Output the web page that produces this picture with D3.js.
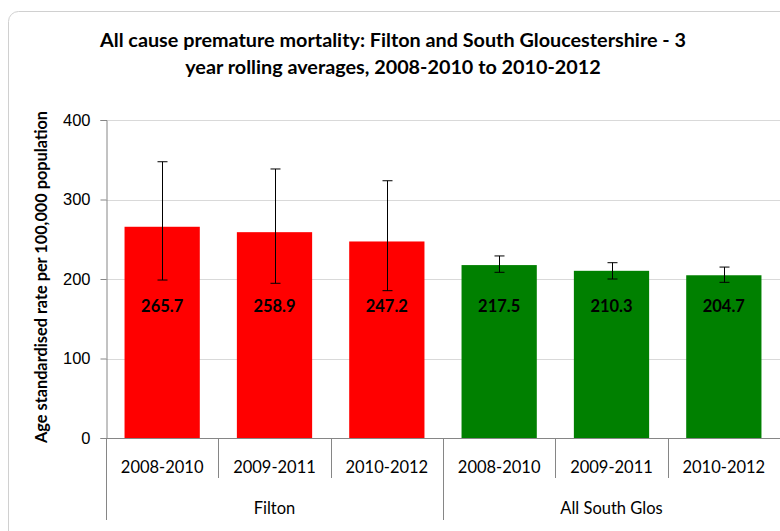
<!DOCTYPE html>
<html>
<head>
<meta charset="utf-8">
<script src="https://cdn.jsdelivr.net/npm/d3@7"></script>
<style>
  body { margin: 0; background: #fff; }
  svg { display: block; font-family: Lato, "Open Sans", sans-serif; }
</style>
</head>
<body>
<svg id="chart"></svg>
<script>
const periods = ['2008-2010', '2009-2011', '2010-2012'];
const groups = ['Filton', 'All South Glos'];
const filtonValues = [265.7, 258.9, 247.2];
const filtonLower = [198.7, 194.6, 185.3];
const filtonUpper = [347.5, 338.4, 323.6];
const southGlosValues = [217.5, 210.3, 204.7];
const southGlosLower = [208.4, 200.0, 195.8];
const southGlosUpper = [229.0, 220.5, 215.0];
const yTicks = [0, 100, 200, 300, 400];
const groupColors = ['#ff0000', '#008000'];

const width = 780, height = 531;
const margin = { top: 120, right: 0, bottom: 93, left: 106 };

const rows = [];
[[filtonValues, filtonLower, filtonUpper], [southGlosValues, southGlosLower, southGlosUpper]]
  .forEach(([vals, lo, hi], g) => {
    vals.forEach((v, i) => rows.push({
      key: g + '|' + periods[i], period: periods[i], group: groups[g], g,
      value: v, lower: lo[i], upper: hi[i]
    }));
  });

const svg = d3.select('#chart').attr('width', width).attr('height', height);

// outer chart frame
svg.append('rect')
  .attr('x', 8.5).attr('y', 11.5)
  .attr('width', 800).attr('height', 540)
  .attr('rx', 10)
  .attr('fill', '#fff')
  .attr('stroke', '#d0d0d0');

const innerW = width - margin.left - margin.right;
const innerH = height - margin.top - margin.bottom;

const x = d3.scaleBand()
  .domain(rows.map(d => d.key))
  .range([0, innerW])
  .paddingInner(0.33)
  .paddingOuter(0.165);

const y = d3.scaleLinear()
  .domain([0, 400])
  .range([innerH, 0]);

const g = svg.append('g')
  .attr('transform', `translate(${margin.left},${margin.top})`);

// gridlines
g.append('g')
  .selectAll('line')
  .data(yTicks.filter(t => t > 0))
  .enter()
  .append('line')
  .attr('x1', 0).attr('x2', innerW)
  .attr('y1', d => Math.round(y(d)) + 0.5)
  .attr('y2', d => Math.round(y(d)) + 0.5)
  .attr('stroke', '#d9d9d9');

// y axis
const yAxis = g.append('g')
  .attr('transform', 'translate(0.5,0)')
  .call(d3.axisLeft(y).tickValues(yTicks).tickSize(6).tickPadding(10));
yAxis.select('.domain').attr('stroke', '#868686');
yAxis.selectAll('.tick line').attr('stroke', '#868686');
yAxis.selectAll('.tick text')
  .attr('font-size', 16.5)
  .attr('fill', '#000');

// bars
g.selectAll('.bar')
  .data(rows)
  .enter()
  .append('rect')
  .attr('class', 'bar')
  .attr('x', d => x(d.key))
  .attr('y', d => y(d.value))
  .attr('width', x.bandwidth())
  .attr('height', d => innerH - y(d.value))
  .attr('fill', d => groupColors[d.g]);

// error bars
const err = g.selectAll('.err')
  .data(rows)
  .enter()
  .append('g')
  .attr('class', 'err')
  .attr('transform', d => `translate(${Math.round(x(d.key) + x.bandwidth() / 2) + 0.5},0)`)
  .attr('stroke', '#000')
  .attr('stroke-width', 1);
err.append('line')
  .attr('y1', d => y(d.lower)).attr('y2', d => y(d.upper));
err.append('line')
  .attr('x1', -5).attr('x2', 5)
  .attr('y1', d => y(d.upper)).attr('y2', d => y(d.upper));
err.append('line')
  .attr('x1', -5).attr('x2', 5)
  .attr('y1', d => y(d.lower)).attr('y2', d => y(d.lower));

// value labels
g.selectAll('.val')
  .data(rows)
  .enter()
  .append('text')
  .attr('class', 'val')
  .attr('x', d => x(d.key) + x.bandwidth() / 2)
  .attr('y', y(166))
  .attr('dy', '0.35em')
  .attr('text-anchor', 'middle')
  .attr('font-size', 16.5)
  .attr('font-weight', 'bold')
  .attr('fill', '#000')
  .text(d => d.value.toFixed(1));

// x axis (two-level categories)
const step = x.step();
const xa = g.append('g').attr('transform', `translate(0,${innerH})`);
xa.append('line')
  .attr('x1', 0).attr('x2', innerW)
  .attr('y1', 0.5).attr('y2', 0.5)
  .attr('stroke', '#868686');
xa.selectAll('.ctick')
  .data(d3.range(rows.length + 1))
  .enter()
  .append('line')
  .attr('x1', i => Math.round(i * step) + 0.5)
  .attr('x2', i => Math.round(i * step) + 0.5)
  .attr('y1', 0)
  .attr('y2', i => (i % 3 === 0 ? 82 : 40))
  .attr('stroke', '#868686');
xa.selectAll('.clabel')
  .data(rows)
  .enter()
  .append('text')
  .attr('x', d => x(d.key) + x.bandwidth() / 2)
  .attr('y', 35)
  .attr('text-anchor', 'middle')
  .attr('font-size', 16.5)
  .attr('fill', '#000')
  .text(d => d.period);
xa.selectAll('.glabel')
  .data(groups)
  .enter()
  .append('text')
  .attr('x', (d, i) => (i * 3 + 1.5) * step)
  .attr('y', 76)
  .attr('text-anchor', 'middle')
  .attr('font-size', 16.5)
  .attr('fill', '#000')
  .text(d => d);

// y axis title
svg.append('text')
  .attr('transform', `translate(47,${margin.top + innerH / 2 - 2}) rotate(-90)`)
  .attr('text-anchor', 'middle')
  .attr('font-size', 16.3)
  .attr('font-weight', 'bold')
  .attr('fill', '#000')
  .text('Age standardised rate per 100,000 population');

// chart title
const title = svg.append('text')
  .attr('text-anchor', 'middle')
  .attr('font-size', 19.8)
  .attr('font-weight', 'bold')
  .attr('fill', '#000');
title.append('tspan').attr('x', 393).attr('y', 47)
  .text('All cause premature mortality: Filton and South Gloucestershire - 3');
title.append('tspan').attr('x', 393).attr('y', 74)
  .text('year rolling averages, 2008-2010 to 2010-2012');
</script>
</body>
</html>
